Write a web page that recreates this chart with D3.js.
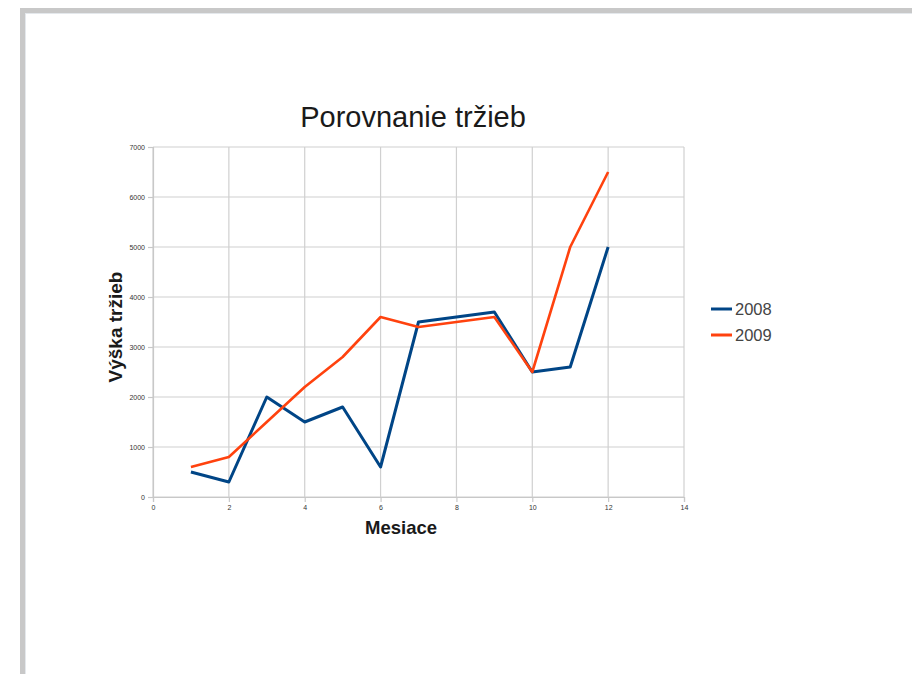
<!DOCTYPE html>
<html>
<head>
<meta charset="utf-8">
<script src="https://cdn.jsdelivr.net/npm/d3@7"></script>
<style>
  html, body { margin: 0; padding: 0; background: #fff; }
  svg { display: block; font-family: "Liberation Sans", Arial, sans-serif; }
</style>
</head>
<body>
<svg id="chart" width="912" height="674"></svg>
<script>
// Monthly sales, 2008 vs 2009
const months = [1, 2, 3, 4, 5, 6, 7, 8, 9, 10, 11, 12];
const sales2008 = [500, 300, 2000, 1500, 1800, 600, 3500, 3600, 3700, 2500, 2600, 5000];
const sales2009 = [600, 800, 1500, 2200, 2800, 3600, 3400, 3500, 3600, 2500, 5000, 6500];
const seriesNames = ["2008", "2009"];
const seriesColors = ["#004586", "#ff420e"];
const xTicks = [0, 2, 4, 6, 8, 10, 12, 14];
const yTicks = [0, 1000, 2000, 3000, 4000, 5000, 6000, 7000];

const svg = d3.select("#chart");

// outer frame (grey edge on the top and left)
svg.append("rect").attr("x", 20).attr("y", 8).attr("width", 892).attr("height", 5).attr("fill", "#c8c8c8");
svg.append("rect").attr("x", 20).attr("y", 8).attr("width", 5).attr("height", 666).attr("fill", "#c8c8c8");
svg.append("rect").attr("x", 25).attr("y", 13).attr("width", 887).attr("height", 1).attr("fill", "#e4e8ec");
svg.append("rect").attr("x", 25).attr("y", 13).attr("width", 1).attr("height", 661).attr("fill", "#e4e8ec");

const x = d3.scaleLinear().domain([0, 14]).range([153, 684]);
const y = d3.scaleLinear().domain([0, 7000]).range([497, 147]);

// gridlines
const grid = svg.append("g");
grid.selectAll("line.v").data(xTicks).join("line")
  .attr("x1", d => x(d)).attr("x2", d => x(d))
  .attr("y1", y(7000)).attr("y2", y(0))
  .attr("stroke", "#d0d0d0").attr("stroke-width", 1.2);
grid.selectAll("line.h").data(yTicks).join("line")
  .attr("x1", x(0)).attr("x2", x(14))
  .attr("y1", d => y(d)).attr("y2", d => y(d))
  .attr("stroke", "#d0d0d0").attr("stroke-width", 1.2);

// axes
const xAxis = svg.append("g").attr("transform", `translate(0,${y(0)})`)
  .call(d3.axisBottom(x).tickValues(xTicks).tickSize(5).tickPadding(3));
const yAxis = svg.append("g").attr("transform", `translate(${x(0)},0)`)
  .call(d3.axisLeft(y).tickValues(yTicks).tickSize(5).tickPadding(3).tickFormat(d3.format("d")));
[xAxis, yAxis].forEach(a => {
  a.select(".domain").attr("stroke", "#c8c8c8").attr("stroke-width", 1.2);
  a.selectAll(".tick line").attr("stroke", "#c8c8c8").attr("stroke-width", 1.2);
  a.selectAll(".tick text").attr("font-size", 7).attr("fill", "#333")
    .attr("font-family", "Liberation Sans, Arial, sans-serif");
});

// series lines
const line = d3.line().x((d, i) => x(months[i])).y(d => y(d));
[sales2008, sales2009].forEach((s, k) => {
  svg.append("path").datum(s)
    .attr("d", line)
    .attr("fill", "none")
    .attr("stroke", seriesColors[k])
    .attr("stroke-width", k === 0 ? 3 : 2.6)
    .attr("stroke-linejoin", "round");
});

// titles
svg.append("text").attr("x", 413).attr("y", 127).attr("text-anchor", "middle")
  .attr("font-size", 29).attr("fill", "#1a1a1a").text("Porovnanie tržieb");
svg.append("text").attr("x", 401).attr("y", 534).attr("text-anchor", "middle")
  .attr("font-size", 18.5).attr("font-weight", "bold").attr("fill", "#1a1a1a").text("Mesiace");
svg.append("text").attr("transform", "translate(122,327) rotate(-90)").attr("text-anchor", "middle")
  .attr("font-size", 19).attr("font-weight", "bold").attr("fill", "#1a1a1a").text("Výška tržieb");

// legend
const legend = svg.append("g");
seriesNames.forEach((name, k) => {
  const ly = 309 + k * 26;
  legend.append("line").attr("x1", 711).attr("x2", 732).attr("y1", ly).attr("y2", ly)
    .attr("stroke", seriesColors[k]).attr("stroke-width", 3);
  legend.append("text").attr("x", 735).attr("y", ly + 6).attr("font-size", 16.5)
    .attr("fill", "#444").text(name);
});
</script>
</body>
</html>
